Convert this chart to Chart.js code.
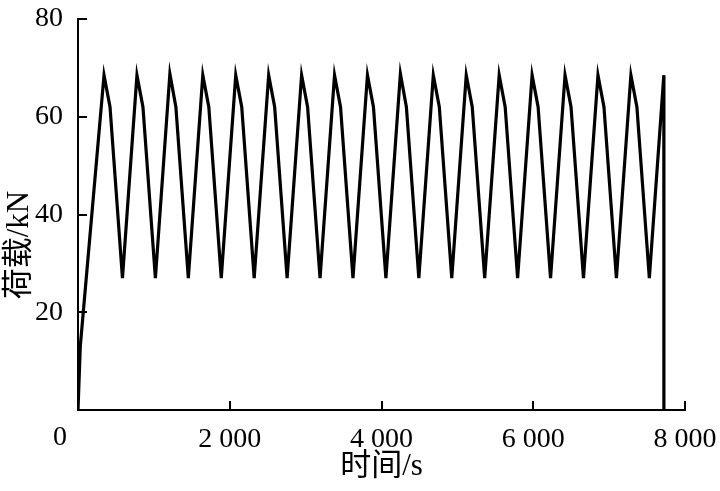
<!DOCTYPE html>
<html>
<head>
<meta charset="utf-8">
<script src="https://cdn.jsdelivr.net/npm/chart.js@4/dist/chart.umd.min.js"></script>
<style>
  html, body { margin: 0; padding: 0; background: #fff; }
  #wrap { width: 720px; height: 491px; position: relative; }
</style>
</head>
<body>
<div id="wrap"><canvas id="chart"></canvas></div>
<script>
// time (s) and load (kN)
const timeS = [0, 30,
  343, 422, 586, 777, 856, 1020, 1211, 1290, 1454, 1645, 1724, 1888,
  2079, 2158, 2322, 2513, 2592, 2756, 2947, 3026, 3190, 3381, 3460, 3624,
  3815, 3894, 4058, 4249, 4328, 4492, 4683, 4762, 4926, 5117, 5196, 5360,
  5551, 5630, 5794, 5985, 6064, 6228, 6419, 6498, 6662, 6853, 6932, 7096,
  7287, 7366, 7530, 7721, 7722];
const loadKN = [0, 13,
  68.5, 62, 27, 68.5, 62, 27, 68.8, 62, 27, 68.5, 62, 27,
  68.5, 62, 27, 68.5, 62, 27, 68.5, 62, 27, 68.5, 62, 27,
  68.5, 62, 27, 68.8, 62, 27, 68.5, 62, 27, 68.5, 62, 27,
  68.5, 62, 27, 68.5, 62, 27, 68.5, 62, 27, 68.5, 62, 27,
  68.5, 62, 27, 68.5, 0];

const xTicks = [0, 2000, 4000, 6000, 8000];
const yTicks = [0, 20, 40, 60, 80];
const xTitle = '时间/s';
const yTitle = '荷载/kN';

const FONT = "'Liberation Serif', 'Times New Roman', 'Noto Sans CJK SC', serif";
const TICK_PX = 28;
const TITLE_PX = 31;

// thousands with a space: 2 000
function fmtThousands(v) {
  return String(v).replace(/\B(?=(\d{3})+(?!\d))/g, ' ');
}

// inward tick marks, corner "0" and axis titles
const decorations = {
  id: 'decorations',
  afterDraw(chart) {
    const { ctx, chartArea, scales } = chart;
    const xs = scales.x, ys = scales.y;
    ctx.save();
    ctx.strokeStyle = '#000';
    ctx.lineWidth = 2;
    ctx.beginPath();
    yTicks.forEach(v => {
      if (v === 0) return;
      const py = Math.round(ys.getPixelForValue(v));
      ctx.moveTo(chartArea.left, py);
      ctx.lineTo(chartArea.left + 9, py);
    });
    xTicks.forEach(v => {
      if (v === 0) return;
      const px = Math.round(xs.getPixelForValue(v));
      ctx.moveTo(px, chartArea.bottom);
      ctx.lineTo(px, chartArea.bottom - 9);
    });
    ctx.stroke();

    ctx.fillStyle = '#000';
    ctx.font = TICK_PX + 'px ' + FONT;
    ctx.textAlign = 'center';
    ctx.textBaseline = 'middle';
    ctx.fillText('0', xs.getPixelForValue(0) - 18, chartArea.bottom + 28);

    ctx.font = TITLE_PX + 'px ' + FONT;
    ctx.fillText(xTitle, (chartArea.left + chartArea.right) / 2, 467);

    ctx.translate(20, 245);
    ctx.rotate(-Math.PI / 2);
    ctx.fillText(yTitle, 0, 0);
    ctx.restore();
  }
};

const ctx = document.getElementById('chart').getContext('2d');
new Chart(ctx, {
  type: 'line',
  data: {
    datasets: [{
      data: timeS.map((t, i) => ({ x: t, y: loadKN[i] })),
      borderColor: '#000',
      borderWidth: 3.2,
      pointRadius: 0,
      tension: 0,
      fill: false
    }]
  },
  options: {
    responsive: true,
    maintainAspectRatio: false,
    animation: false,
    layout: { padding: { top: 19, right: 35, left: 0, bottom: 0 } },
    plugins: {
      legend: { display: false },
      tooltip: { enabled: false }
    },
    scales: {
      x: {
        type: 'linear',
        min: 0,
        max: 8000,
        afterBuildTicks: s => { s.ticks = xTicks.map(v => ({ value: v })); },
        afterFit: s => { s.height = 81; s.paddingLeft = 0; s.paddingRight = 0; },
        grid: { display: false, drawTicks: false },
        border: { display: true, color: '#000', width: 2 },
        ticks: {
          color: '#000',
          padding: 13,
          maxRotation: 0,
          font: { family: FONT, size: TICK_PX },
          callback: v => (v === 0 ? '' : fmtThousands(v))
        }
      },
      y: {
        min: 0,
        max: 80,
        afterBuildTicks: s => { s.ticks = yTicks.map(v => ({ value: v })); },
        afterFit: s => { s.width = 78; s.paddingTop = 0; s.paddingBottom = 0; },
        grid: { display: false, drawTicks: false },
        border: { display: true, color: '#000', width: 2 },
        ticks: {
          color: '#000',
          padding: 15,
          font: { family: FONT, size: TICK_PX },
          callback: v => (v === 0 ? '' : String(v))
        }
      }
    }
  },
  plugins: [decorations]
});
</script>
</body>
</html>
